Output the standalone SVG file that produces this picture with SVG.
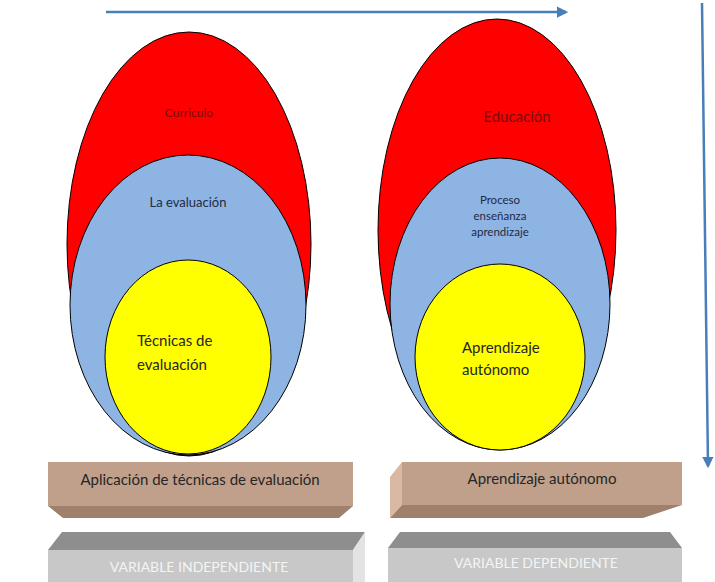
<svg xmlns="http://www.w3.org/2000/svg" width="715" height="582" viewBox="0 0 715 582">
<style>
.e{stroke:#000;stroke-width:1}
.red{fill:#ff0000}
.blue{fill:#8eb4e3}
.yel{fill:#ffff00}
text{font-family:Lato,"Open Sans","Liberation Sans",sans-serif}
.t1{fill:#7a0a0a}
.t2{fill:#1f2a44}
.t3{fill:#262626}
.w{fill:#f4f4f4}
.arr{stroke:#4a7ebb;stroke-width:2.5;fill:none}
</style>
<defs>
<marker id="ah" viewBox="0 0 10 10" refX="8" refY="5" markerWidth="4.5" markerHeight="4.5" orient="auto" markerUnits="strokeWidth">
<path d="M0,0 L10,5 L0,10 z" fill="#4a7ebb"/>
</marker>
</defs>
<g id="connectors">
<line class="arr" x1="106" y1="12" x2="566" y2="12" marker-end="url(#ah)"/>
<line class="arr" x1="702" y1="3" x2="708" y2="466" marker-end="url(#ah)"/>
</g>
<g id="curriculo">
<ellipse class="e red" cx="189" cy="244" rx="122" ry="212"/>
<text class="t1" x="189" y="117" font-size="12" text-anchor="middle">Curriculo</text>
</g>
<g id="la-evaluacion">
<ellipse class="e blue" cx="188" cy="305" rx="118" ry="150"/>
<text class="t2" x="188" y="207" font-size="13" text-anchor="middle">La evaluación</text>
</g>
<g id="tecnicas">
<ellipse class="e yel" cx="188" cy="357" rx="83" ry="97"/>
<text class="t3" x="137" y="346" font-size="15">Técnicas de</text>
<text class="t3" x="137" y="370" font-size="15">evaluación</text>
</g>
<g id="educacion">
<ellipse class="e red" cx="497" cy="230" rx="119" ry="211"/>
<text class="t1" x="517" y="122" font-size="15" text-anchor="middle">Educación</text>
</g>
<g id="proceso">
<ellipse class="e blue" cx="500" cy="304" rx="110" ry="146"/>
<text class="t2" x="500" y="204" font-size="11.5" text-anchor="middle">Proceso</text>
<text class="t2" x="500" y="220" font-size="11.5" text-anchor="middle">enseñanza</text>
<text class="t2" x="500" y="236" font-size="11.5" text-anchor="middle">aprendizaje</text>
</g>
<g id="aprendizaje-autonomo">
<ellipse class="e yel" cx="500" cy="357" rx="85" ry="93"/>
<text class="t3" x="462" y="353" font-size="15">Aprendizaje</text>
<text class="t3" x="462" y="375" font-size="15">autónomo</text>
</g>
<g id="box-aplicacion">
<rect x="48" y="462" width="305" height="44" fill="#c0a08b"/>
<polygon points="48,506 353,506 339,518 63,518" fill="#9e806c"/>
<text class="t3" x="200" y="485" font-size="15" text-anchor="middle">Aplicación de técnicas de evaluación</text>
</g>
<g id="box-aprendizaje">
<polygon points="402,462 390,477 390,518 402,505" fill="#d9b9a1"/>
<rect x="402" y="462" width="280" height="43" fill="#c0a08b"/>
<polygon points="390,518 643,518 682,505 402,505" fill="#9e806c"/>
<text class="t3" x="542" y="484" font-size="15" text-anchor="middle">Aprendizaje autónomo</text>
</g>
<g id="variable-independiente">
<polygon points="62,532 365,532 353,550 48,550" fill="#8e8e8e"/>
<polygon points="353,550 365,532 365,582 353,582" fill="#e3e3e3"/>
<rect x="48" y="550" width="305" height="32" fill="#c8c8c8"/>
<text class="w" x="199" y="572" font-size="14" text-anchor="middle">VARIABLE INDEPENDIENTE</text>
</g>
<g id="variable-dependiente">
<polygon points="400,532 670,532 682,548 388,548" fill="#8e8e8e"/>
<rect x="388" y="548" width="294" height="34" fill="#c8c8c8"/>
<text class="w" x="536" y="568" font-size="14" text-anchor="middle">VARIABLE DEPENDIENTE</text>
</g>
</svg>
